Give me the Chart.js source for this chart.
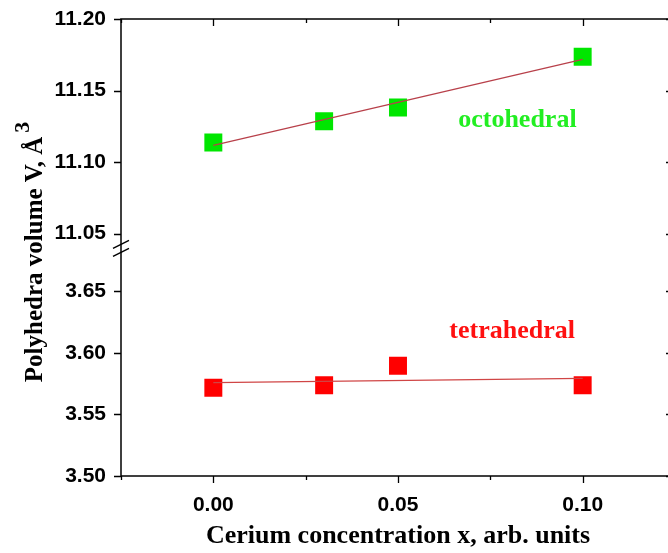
<!DOCTYPE html>
<html>
<head>
<meta charset="utf-8">
<script src="https://cdn.jsdelivr.net/npm/chart.js@4/dist/chart.umd.min.js"></script>
<style>
  html, body { margin: 0; padding: 0; background: #fff; overflow: hidden; }
  #wrap { width: 668px; height: 553px; overflow: hidden; }
</style>
</head>
<body>
<div id="wrap"><canvas id="chart" width="676" height="553"></canvas></div>
<script>
// cerium concentration x
const concentrations = [0.00, 0.03, 0.05, 0.10];
// polyhedra volumes, A^3
const octahedralVolume = [11.1136, 11.1285, 11.1381, 11.1736];
const tetrahedralVolume = [3.5716, 3.5736, 3.5895, 3.5736];
// linear fit ends (x = 0 and x = 0.10)
const fitX = [0.00, 0.10];
const octahedralFit = [11.1117, 11.1717];
const tetrahedralFit = [3.5757, 3.5793];

const toPoints = (xs, ys) => xs.map((x, i) => ({ x: x, y: ys[i] }));

const SANS = "'Liberation Sans', Arial, sans-serif";
const SERIF = "'Liberation Serif', 'Times New Roman', serif";

const isMajor = (v, step) => Math.abs(v / step - Math.round(v / step)) < 1e-6;
const fmt = v => (Math.abs(v) < 1e-9 ? 0 : v).toFixed(2);

// frame, in/out ticks, axis break, y title and the two labels
const decor = {
    id: 'decor',
    afterDraw(chart) {
        const ctx = chart.ctx;
        const a = chart.chartArea;
        const xs = chart.scales.x, yt = chart.scales.yTop, yb = chart.scales.yBot;
        ctx.save();
        ctx.strokeStyle = '#000';
        ctx.lineWidth = 1.5;
        ctx.strokeRect(a.left, a.top, a.right - a.left, a.bottom - a.top);

        ctx.lineWidth = 1.3;
        ctx.beginPath();
        xs.ticks.forEach(t => {
            const px = Math.round(xs.getPixelForValue(t.value)) + 0.5;
            const len = isMajor(t.value, 0.05) ? 7 : 4;
            ctx.moveTo(px, a.bottom); ctx.lineTo(px, a.bottom + len);
            ctx.moveTo(px, a.top); ctx.lineTo(px, a.top + len);
        });
        [yt, yb].forEach(s => {
            s.ticks.forEach(t => {
                const py = Math.round(s.getPixelForValue(t.value)) + 0.5;
                const len = isMajor(t.value, 0.05) ? 7 : 4;
                ctx.moveTo(a.left - len, py); ctx.lineTo(a.left, py);
                ctx.moveTo(a.right - len - 2, py); ctx.lineTo(a.right, py);
            });
        });
        ctx.stroke();

        // axis break marks
        const b = yt.bottom;
        ctx.lineWidth = 1.4;
        ctx.beginPath();
        ctx.moveTo(a.left - 8, b - 1); ctx.lineTo(a.left + 8, b - 9);
        ctx.moveTo(a.left - 8, b + 7); ctx.lineTo(a.left + 8, b - 1);
        ctx.stroke();

        // y axis title with superscript
        ctx.fillStyle = '#000';
        ctx.translate(42, 252);
        ctx.rotate(-Math.PI / 2);
        ctx.font = 'bold 25px ' + SERIF;
        const main = 'Polyhedra volume V, Å';
        const w1 = ctx.measureText(main).width;
        ctx.font = 'bold 22px ' + SERIF;
        const w2 = ctx.measureText('3').width;
        const x0 = -(w1 + w2 + 4) / 2;
        ctx.font = 'bold 25px ' + SERIF;
        ctx.textBaseline = 'alphabetic';
        ctx.fillText(main, x0, 0);
        ctx.font = 'bold 22px ' + SERIF;
        ctx.fillText('3', x0 + w1 + 4, -13);
        ctx.restore();

        ctx.save();
        ctx.font = 'bold 26px ' + SERIF;
        ctx.textBaseline = 'alphabetic';
        ctx.fillStyle = '#22ee22';
        ctx.fillText('octohedral', xs.getPixelForValue(0.0663), yt.getPixelForValue(11.1243));
        ctx.fillStyle = '#ff1010';
        ctx.fillText('tetrahedral', xs.getPixelForValue(0.0639), yb.getPixelForValue(3.6123));
        ctx.restore();
    }
};

const yTicks = {
    stepSize: 0.025,
    includeBounds: false,
    padding: 15,
    color: '#000',
    font: { family: SANS, size: 21, weight: 'bold' },
    callback: v => isMajor(v, 0.05) ? fmt(v) : ''
};
const noGrid = { display: false, drawTicks: false, tickLength: 0 };
// fixed box sizes, no extra label padding around the plot area
const fitY = s => { s.width = 121; s.paddingTop = 0; s.paddingBottom = 0; };
const fitXAxis = s => { s.height = 77; s.paddingLeft = 0; s.paddingRight = 0; };

new Chart(document.getElementById('chart'), {
    type: 'scatter',
    data: {
        datasets: [{
            label: 'octahedral fit',
            type: 'line',
            data: toPoints(fitX, octahedralFit),
            yAxisID: 'yTop',
            borderColor: '#b8404a',
            borderWidth: 1.3,
            pointRadius: 0,
            fill: false
        }, {
            label: 'tetrahedral fit',
            type: 'line',
            data: toPoints(fitX, tetrahedralFit),
            yAxisID: 'yBot',
            borderColor: '#d04545',
            borderWidth: 1.3,
            pointRadius: 0,
            fill: false
        }, {
            label: 'octahedral',
            data: toPoints(concentrations, octahedralVolume),
            yAxisID: 'yTop',
            pointStyle: 'rect',
            pointRadius: 12.7,
            backgroundColor: '#00e600',
            borderColor: '#00e600',
            borderWidth: 0
        }, {
            label: 'tetrahedral',
            data: toPoints(concentrations, tetrahedralVolume),
            yAxisID: 'yBot',
            pointStyle: 'rect',
            pointRadius: 12.7,
            backgroundColor: '#ff0000',
            borderColor: '#ff0000',
            borderWidth: 0
        }]
    },
    options: {
        responsive: false,
        animation: false,
        layout: { autoPadding: false, padding: { top: 19, right: 1, left: 0, bottom: 0 } },
        plugins: {
            legend: { display: false },
            tooltip: { enabled: false }
        },
        scales: {
            x: {
                type: 'linear',
                min: -0.025,
                max: 0.125,
                grid: noGrid,
                border: { display: false },
                ticks: {
                    stepSize: 0.025,
                    includeBounds: false,
                    padding: 17,
                    maxRotation: 0,
                    autoSkip: false,
                    color: '#000',
                    font: { family: SANS, size: 21, weight: 'bold' },
                    callback: v => isMajor(v, 0.05) ? fmt(v) : ''
                },
                title: {
                    display: true,
                    text: 'Cerium concentration x, arb. units',
                    color: '#000',
                    font: { family: SERIF, size: 26, weight: 'bold' },
                    padding: { top: 0, bottom: 1 }
                },
                afterFit: fitXAxis
            },
            yBot: {
                type: 'linear',
                position: 'left',
                stack: 'v',
                stackWeight: 226.1,
                min: 3.50,
                max: 3.684,
                grid: noGrid,
                border: { display: false },
                ticks: yTicks,
                afterFit: fitY
            },
            yTop: {
                type: 'linear',
                position: 'left',
                stack: 'v',
                stackWeight: 229.6,
                min: 11.039,
                max: 11.20,
                grid: noGrid,
                border: { display: false },
                ticks: yTicks,
                afterFit: fitY
            }
        }
    },
    plugins: [decor]
});
</script>
</body>
</html>
